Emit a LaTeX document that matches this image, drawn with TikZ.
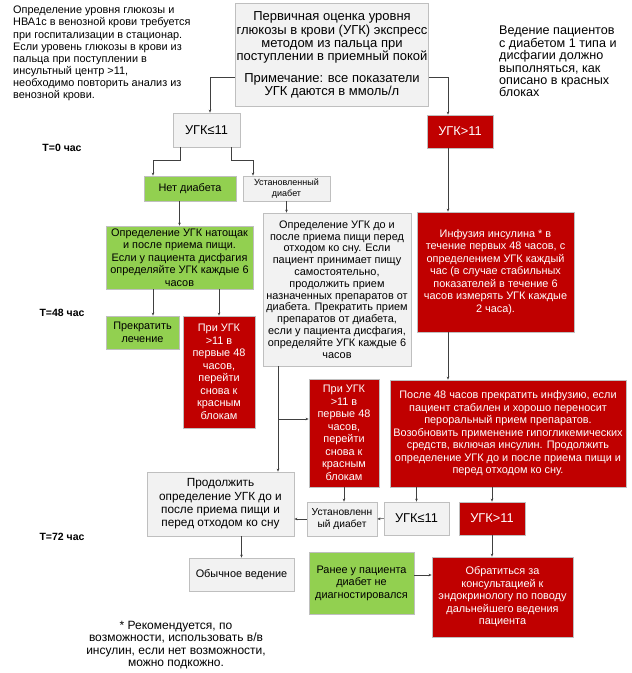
\documentclass[tikz,border=0pt]{standalone}
\usepackage{fontspec}
\setmainfont{Liberation Sans}
\usetikzlibrary{arrows.meta}
\definecolor{boxgreen}{HTML}{92D050}
\definecolor{boxred}{HTML}{C00000}
\definecolor{boxgray}{HTML}{F2F2F2}
\definecolor{edgegray}{HTML}{BFBFBF}
\definecolor{linegray}{HTML}{404040}
\begin{document}
\begin{tikzpicture}
  [x=1pt,y=-1pt,
   every node/.style={inner sep=1pt,align=center,font=\fontsize{10.9}{12.5}\selectfont},
   boxsize/.style 2 args={minimum width=#1pt,minimum height=#2pt},
   graybox/.style={draw=edgegray,line width=0.8pt,fill=boxgray},
   greenbox/.style={draw=edgegray,line width=0.8pt,fill=boxgreen},
   redbox/.style={draw=edgegray,line width=0.8pt,fill=boxred,text=white},
   small/.style={font=\fontsize{9}{10.5}\selectfont},
   big/.style={font=\fontsize{12.8}{14}\selectfont},
   note/.style={anchor=north west,align=left},
   tlabel/.style={font=\fontsize{10.5}{11}\selectfont\bfseries},
   arr/.style={draw=linegray,line width=0.6pt,-{Stealth[length=3pt,width=2.6pt]}}]
  \useasboundingbox (0,0) rectangle (632,673);

  % notes round the chart
  \node[note,font=\fontsize{10.9}{12.1}\selectfont] (intro) at (12,5)
    {Определение уровня глюкозы и\\НВА1с в венозной крови требуется\\при госпитализации в стационар.\\Если уровень глюкозы в крови из\\пальца при поступлении в\\инсультный центр >11,\\необходимо повторить анализ из\\венозной крови.};
  \node[note,font=\fontsize{12.6}{12.4}\selectfont] (dysph) at (498,25)
    {Ведение пациентов\\с диабетом 1 типа и\\дисфагии должно\\выполняться, как\\описано в красных\\блоках};
  \node[tlabel] (t0)  at (62,148) {T=0 час};
  \node[tlabel] (t48) at (62,313) {T=48 час};
  \node[tlabel] (t72) at (62,537) {T=72 час};

  % T=0
  \node[graybox,boxsize={192}{103},font=\fontsize{13}{13.1}\selectfont] (first) at (332,55)
    {Первичная оценка уровня\\глюкозы в крови (УГК) экспресс\\методом из пальца при\\поступлении в приемный покой\\[9pt]Примечание: все показатели\\УГК даются в ммоль/л};
  \node[graybox,big,boxsize={67}{34}] (le1) at (206.5,130) {УГК≤11};
  \node[redbox,big,boxsize={66}{33}] (gt1) at (460,131.5) {УГК>11};
  \node[greenbox,boxsize={92}{25}] (nodiab) at (190,188.5) {Нет диабета};
  \node[graybox,small,boxsize={87}{25}] (estd1) at (286.5,188.5) {Установленный\\диабет};

  % first 48 hours
  \node[greenbox,boxsize={147}{63}] (green1) at (179.5,257.5)
    {Определение УГК натощак\\и после приема пищи.\\Если у пациента дисфагия\\определяйте УГК каждые 6\\часов};
  \node[greenbox,boxsize={73}{33}] (stop) at (142.5,332.5) {Прекратить\\лечение};
  \node[redbox,boxsize={72}{112}] (red1) at (219,372)
    {При УГК\\>11 в\\первые 48\\часов,\\перейти\\снова к\\красным\\блокам};
  \node[graybox,boxsize={148}{153},font=\fontsize{10.9}{11.8}\selectfont] (gray1) at (337,289.5)
    {Определение УГК до и\\после приема пищи перед\\отходом ко сну. Если\\пациент принимает пищу\\самостоятельно,\\продолжить прием\\назначенных препаратов от\\диабета. Прекратить прием\\препаратов от диабета,\\если у пациента дисфагия,\\определяйте УГК каждые 6\\часов};
  \node[redbox,boxsize={157}{120}] (inf) at (495.5,272)
    {Инфузия инсулина * в\\течение первых 48 часов, с\\определением УГК каждый\\час (в случае стабильных\\показателей в течение 6\\часов измерять УГК каждые\\2 часа).};

  % after 48 hours
  \node[redbox,boxsize={236}{107}] (after48) at (508,433.5)
    {После 48 часов прекратить инфузию, если\\пациент стабилен и хорошо переносит\\пероральный прием препаратов.\\Возобновить применение гипогликемических\\средств, включая инсулин. Продолжить\\определение УГК до и после приема пищи и\\перед отходом ко сну.};
  \node[redbox,boxsize={70}{108}] (red2) at (344,433)
    {При УГК\\>11 в\\первые 48\\часов,\\перейти\\снова к\\красным\\блокам};

  % T=72
  \node[graybox,boxsize={147}{64},font=\fontsize{11.8}{13.3}\selectfont] (cont) at (220.5,504)
    {Продолжить\\определение УГК до и\\после приема пищи и\\перед отходом ко сну};
  \node[graybox,boxsize={70}{34},font=\fontsize{10.2}{12}\selectfont] (estd2) at (342,519) {Установленн\\ый диабет};
  \node[graybox,big,boxsize={65}{33}] (le2) at (416.5,518.5) {УГК≤11};
  \node[redbox,big,boxsize={66}{33}] (gt2) at (492,518.5) {УГК>11};
  \node[graybox,boxsize={105}{33}] (usual) at (241.5,574.5) {Обычное ведение};
  \node[greenbox,boxsize={105}{62}] (prevnot) at (361.5,583)
    {Ранее у пациента\\диабет не\\диагностировался};
  \node[redbox,boxsize={141}{80}] (endo) at (502.5,597)
    {Обратиться за\\консультацией к\\эндокринологу по поводу\\дальнейшего ведения\\пациента};

  \node[font=\fontsize{12}{12.2}\selectfont] (foot) at (176,645)
    {{\large *} Рекомендуется, по\\возможности, использовать в/в\\инсулин, если нет возможности,\\можно подкожно.};

  % connectors
  \coordinate (gt1out) at ([xshift=-12pt]gt1.south);
  \coordinate (g1out) at ([xshift=-59pt]gray1.south);
  \coordinate (stopin) at ([xshift=10.5pt]stop.north);
  \coordinate (red2in) at ([yshift=14pt]red2.west);
  \coordinate (prevout) at ([yshift=8pt]prevnot.east);

  \draw[arr] ([yshift=-22pt]first.west) -| ([xshift=3.5pt]le1.north);
  \draw[arr] ([yshift=-22pt]first.east) -| ([xshift=-12pt]gt1.north);
  \draw[arr] ([xshift=-26.5pt]le1.south) -- ++(0,13) -| ([xshift=-37pt]nodiab.north);
  \draw[arr] ([xshift=24.5pt]le1.south) -- ++(0,13) -| ([xshift=-33.5pt]estd1.north);

  \foreach \from/\to in {nodiab.south/green1.north,green1.south/stopin,
                         green1.south/red1.north,after48.south/le2.north,
                         after48.south/gt2.north,cont.south/usual.north}
    \draw[arr] (\to |- \from) -- (\to);
  \foreach \from/\to in {estd1.south/gray1.north,red2.south/estd2.north,
                         gt2.south/endo.north,gt1out/inf.north}
    \draw[arr] (\from) -- (\from |- \to);

  \draw[arr] (inf.south -| gt1out) -- (after48.north -| gt1out);
  \draw[arr] (g1out) -- (g1out |- cont.north);
  \draw[arr] (g1out |- red2in) -- (red2in);
  \draw[arr] (le2.west) -- (estd2.east);
  \draw[arr] (estd2.west) -- (estd2.west -| cont.east);
  \draw[arr] (prevout) -- (prevout -| endo.west);

\end{tikzpicture}
\end{document}
